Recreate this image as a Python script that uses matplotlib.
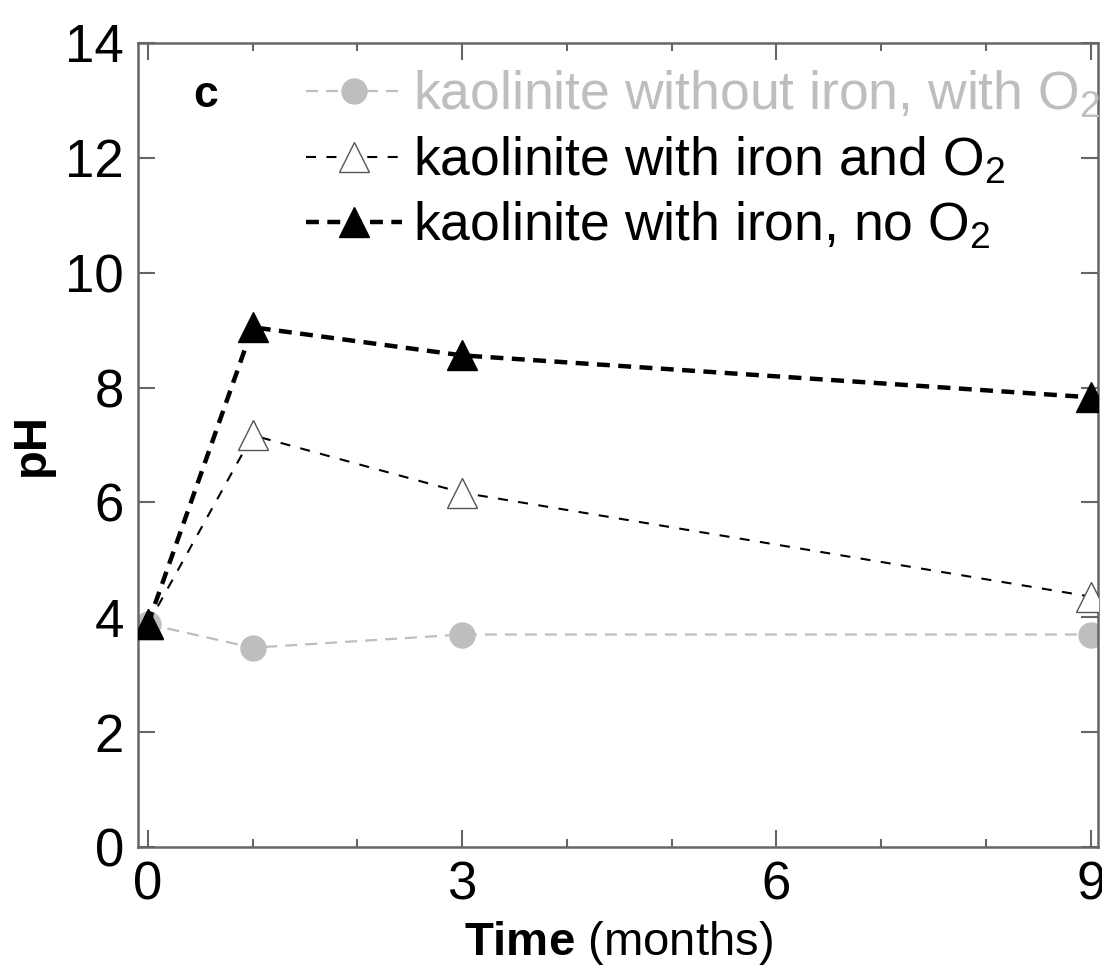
import matplotlib
matplotlib.use('Agg')
import matplotlib.pyplot as plt
from matplotlib.ticker import MultipleLocator

plt.rcParams['font.family'] = ['Liberation Sans', 'DejaVu Sans']
plt.rcParams['mathtext.fontset'] = 'custom'
plt.rcParams['mathtext.rm'] = 'Liberation Sans'
plt.rcParams['mathtext.it'] = 'Liberation Sans'
plt.rcParams['mathtext.bf'] = 'Liberation Sans:bold'

# sampling times (months) and measured pH
months = [0, 1, 3, 9]
ph_no_iron_o2 = [3.88, 3.47, 3.70, 3.70]
ph_iron_o2 = [3.88, 7.17, 6.17, 4.36]
ph_iron_no_o2 = [3.88, 9.05, 8.56, 7.83]

labels = ['kaolinite without iron, with O$_2$',
          'kaolinite with iron and O$_2$',
          'kaolinite with iron, no O$_2$']

frame_col = '#666666'
grey = '#bebebe'

fig = plt.figure(figsize=(11.02, 9.72), dpi=100)
ax = fig.add_axes([0.1252, 0.1286, 0.8712, 0.8272])

ax.plot(months, ph_no_iron_o2, ls=(0, (5.4, 3.6)), lw=1.6, color=grey,
        marker='o', ms=18, mfc=grey, mec=grey, zorder=2, label=labels[0])
ax.plot(months, ph_iron_o2, ls=(0, (4.8, 5.0)), lw=1.5, color='black',
        marker='^', ms=21, mfc='white', mec='#555555', mew=1.0, zorder=3, label=labels[1])
ax.plot(months, ph_iron_no_o2, ls=(0, (2.9, 1.9)), lw=3.2, color='black',
        marker='^', ms=21, mfc='black', mec='black', zorder=4, label=labels[2])

ax.set_xlim(-0.095, 9.07)
ax.set_ylim(0, 14)
ax.xaxis.set_major_locator(MultipleLocator(3))
ax.xaxis.set_minor_locator(MultipleLocator(1))
ax.yaxis.set_major_locator(MultipleLocator(2))

for s in ax.spines.values():
    s.set_color(frame_col)
    s.set_linewidth(1.8)
ax.tick_params(which='both', direction='in', top=True, right=True,
               color=frame_col, width=1.5, labelsize=38, pad=10)
ax.tick_params(which='major', length=12)
ax.tick_params(which='minor', length=6)

ax.set_ylabel('pH', fontsize=34, fontweight='bold', labelpad=8)
ax.set_xlabel(r'$\mathbf{Time}$ (months)', fontsize=34, labelpad=6)

ax.text(0.07, 0.935, 'c', transform=ax.transAxes, fontsize=32,
        fontweight='bold', ha='center', va='center')

leg = ax.legend(loc='upper left', bbox_to_anchor=(0.147, 1.0), frameon=False,
                fontsize=38.5, handlelength=1.8, handletextpad=0.2,
                labelspacing=0.26, borderaxespad=0.1)
leg.get_texts()[0].set_color(grey)

fig.savefig('out.png', dpi=100)
